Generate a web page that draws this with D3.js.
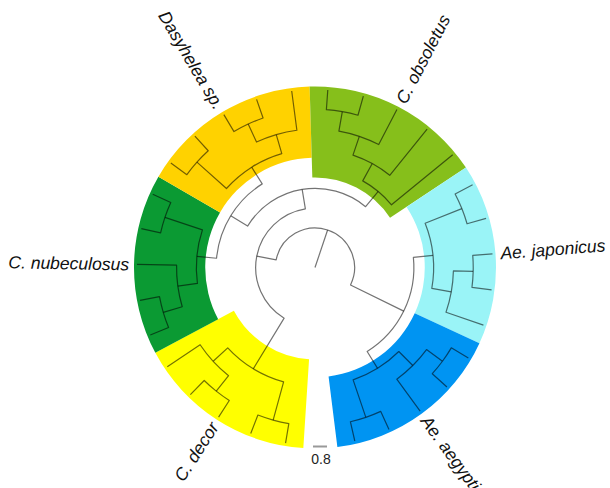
<!DOCTYPE html>
<html>
<head>
<meta charset="utf-8">
<script src="https://cdn.jsdelivr.net/npm/d3@7"></script>
<style>
  html, body { margin: 0; padding: 0; background: #fff; }
  svg { display: block; }
</style>
</head>
<body>
<svg id="chart" width="610" height="488"></svg>
<script>
// Clades, in clockwise order starting just left of the gap at the bottom
const cladeNames = ["C. decor", "C. nubeculosus", "Dasyhelea sp.", "C. obsoletus", "Ae. japonicus", "Ae. aegypti"];
const cladeColors = ["#ffff00", "#0b9a33", "#ffd200", "#86bf1b", "#9af4f7", "#0094f2"];

// Topology within each clade (Newick, leaves listed in drawing order)
const cladeTrees = [
  "((dec1,dec2),((dec3,dec4),dec5))",
  "(((nub1,nub2),nub3),(nub4,nub5))",
  "((das1,das2),((das3,das4),das5))",
  "((((obs1,obs2),obs3),obs4),obs5)",
  "((jap1,jap2),((jap3,jap4),jap5))",
  "(((aeg1,aeg2),aeg3),(aeg4,aeg5))"
];

// Backbone joining the clades; "#k" stands for cladeTrees[k]
const backboneTree = "((#0,((#1,#2),#3)),(#4,#5))";

// Scale bar
const scaleBarValue = 0.8;
const scaleBarLabel = "0.8";

// ---------- Newick parsing ----------
function parseNewick(s) {
  let i = 0;
  function readName() {
    const start = i;
    while (i < s.length && !",();".includes(s[i])) i++;
    return s.slice(start, i).trim();
  }
  function node() {
    if (s[i] === "(") {
      i++;
      const children = [node()];
      while (s[i] === ",") { i++; children.push(node()); }
      i++; // closing bracket
      return { name: readName(), children };
    }
    return { name: readName() };
  }
  return node();
}

function graft(n) {
  if (n.children) { n.children = n.children.map(graft); return n; }
  if (n.name.startsWith("#")) {
    const k = +n.name.slice(1);
    const sub = parseNewick(cladeTrees[k]);
    sub.clade = k;
    return sub;
  }
  return n;
}

const treeData = graft(parseNewick(backboneTree));

// ---------- layout ----------
const width = 610, height = 488;
const cx = 315, cy = 267.5;
const tipRadius = 178;           // leaves aligned on this circle
const ringOuter = 181;           // outer edge of the clade bands
const levels = 9;                // rank steps from the centre to the tips
const arcStart = 183.7 * Math.PI / 180;
const arcSpan = 349.2 * Math.PI / 180;

const root = d3.hierarchy(treeData);
d3.cluster().size([arcSpan, 1]).separation(() => 1)(root);

const rScale = d3.scaleLinear().domain([0, levels]).range([0, tipRadius]);
const level = d => levels - d.height;
root.each(d => {
  d.a = arcStart + d.x;
  d.r = rScale(level(d));
});

const pt = (a, r) => [cx + r * Math.sin(a), cy - r * Math.cos(a)];

const svg = d3.select("#chart");

// ---------- clade bands ----------
const leaves = root.leaves();
const stepA = arcSpan / leaves.length;
const cladeNodes = [];
root.each(d => { if (d.data.clade !== undefined) cladeNodes[d.data.clade] = d; });

const arcGen = d3.arc();
svg.append("g")
  .selectAll("path")
  .data(cladeNodes)
  .join("path")
  .attr("transform", `translate(${cx},${cy})`)
  .attr("fill", d => cladeColors[d.data.clade])
  .attr("d", d => {
    const lv = d.leaves();
    const inner = rScale(level(d.parent) + 0.55 * (level(d) - level(d.parent)));
    return arcGen({
      innerRadius: inner,
      outerRadius: ringOuter,
      startAngle: lv[0].a - stepA / 2,
      endAngle: lv[lv.length - 1].a + stepA / 2
    });
  });

// ---------- branches ----------
function linkPath(d) {
  const p = d.parent;
  const [x0, y0] = pt(p.a, p.r);
  const [x1, y1] = pt(d.a, p.r);
  const [x2, y2] = pt(d.a, d.r);
  const sweep = d.a > p.a ? 1 : 0;
  const large = Math.abs(d.a - p.a) > Math.PI ? 1 : 0;
  return `M${x0},${y0}A${p.r},${p.r} 0 ${large} ${sweep} ${x1},${y1}L${x2},${y2}`;
}

const branches = svg.append("g")
  .attr("fill", "none")
  .attr("stroke", "#000")
  .attr("stroke-opacity", 0.55)
  .attr("stroke-width", 1.2)
  .attr("stroke-linejoin", "round");

branches.selectAll("path")
  .data(root.descendants().filter(d => d.parent))
  .join("path")
  .attr("d", linkPath);

// stem from the centre to the root node
const [sx, sy] = pt(root.a, root.r);
branches.append("line")
  .attr("x1", cx).attr("y1", cy)
  .attr("x2", sx).attr("y2", sy);

// ---------- clade labels ----------
const labelRadius = 186;
svg.append("g")
  .attr("font-family", "'Liberation Sans', Arial, sans-serif")
  .attr("font-style", "italic")
  .attr("font-size", 17.5)
  .attr("fill", "#111")
  .selectAll("text")
  .data(cladeNodes)
  .join("text")
  .each(function (d) {
    const lv = d.leaves();
    const a = (lv[0].a + lv[lv.length - 1].a) / 2;
    const deg = (a * 180 / Math.PI) % 360;
    const [x, y] = pt(a, labelRadius);
    const right = deg < 180;
    d3.select(this)
      .attr("transform", `translate(${x},${y}) rotate(${right ? deg - 90 : deg + 90})`)
      .attr("text-anchor", right ? "start" : "end")
      .attr("dy", "0.35em")
      .text(cladeNames[d.data.clade]);
  });

// ---------- scale bar ----------
const unitPx = d3.scaleLinear().domain([0, 1]).range([0, 17.5]);
const barX = cx - 2, barY = cy + 179;
const bar = svg.append("g");
bar.append("line")
  .attr("x1", barX).attr("x2", barX + unitPx(scaleBarValue))
  .attr("y1", barY).attr("y2", barY)
  .attr("stroke", "#999").attr("stroke-width", 2);
bar.append("text")
  .attr("x", barX + unitPx(scaleBarValue) / 2 + 1)
  .attr("y", barY + 17)
  .attr("text-anchor", "middle")
  .attr("font-family", "'Liberation Sans', Arial, sans-serif")
  .attr("font-size", 14)
  .attr("fill", "#222")
  .text(scaleBarLabel);
</script>
</body>
</html>
